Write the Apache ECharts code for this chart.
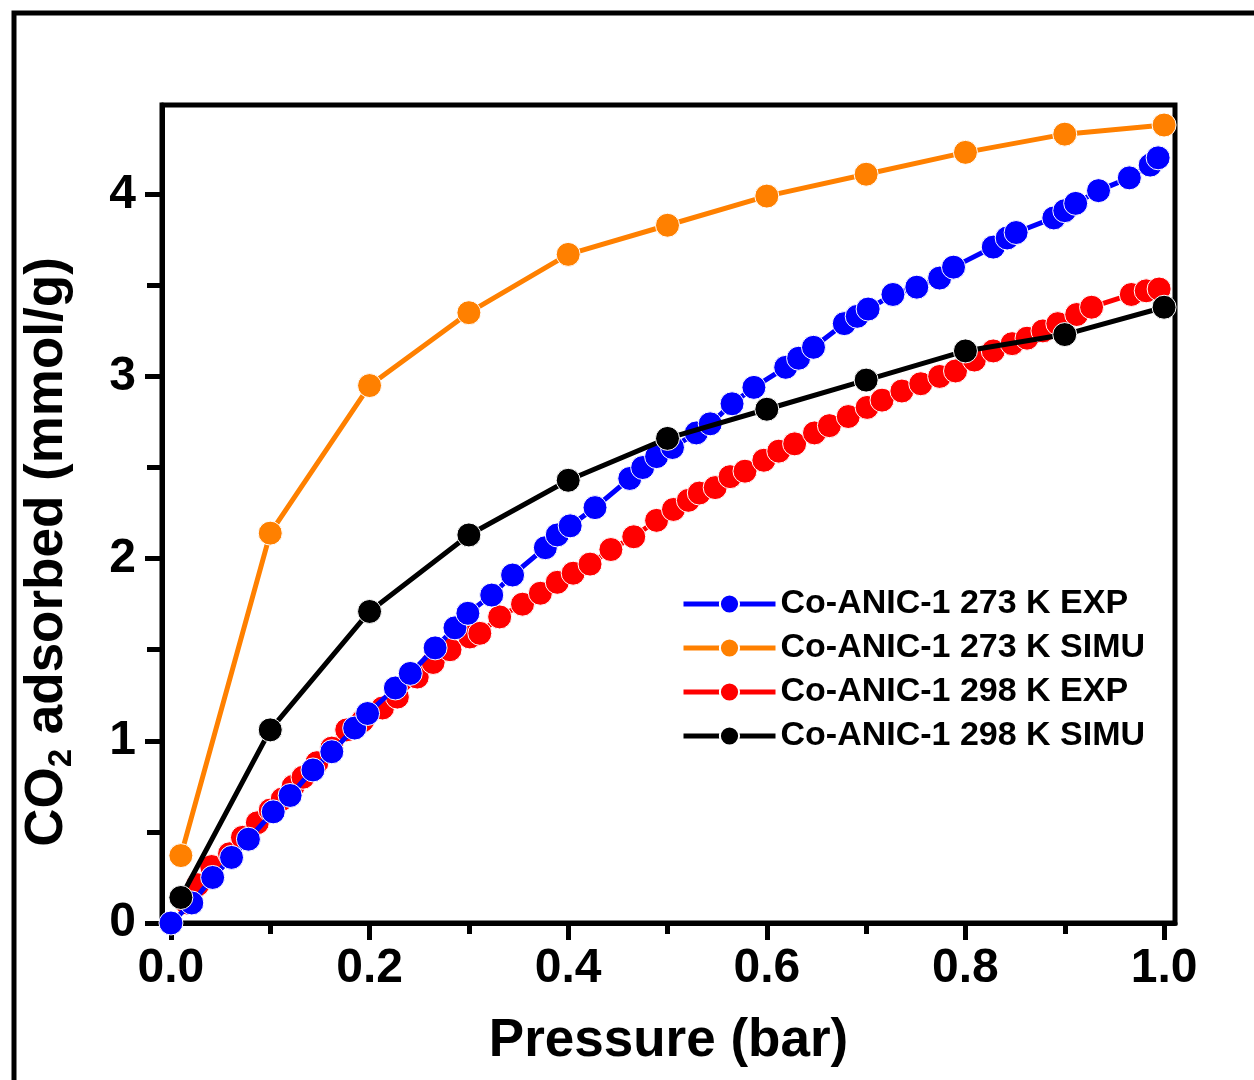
<!DOCTYPE html>
<html>
<head>
<meta charset="utf-8">
<script src="https://cdn.jsdelivr.net/npm/echarts@6/dist/echarts.min.js"></script>
<style>
html,body{margin:0;padding:0;background:#fff;}
#chart{width:1254px;height:1080px;}
</style>
</head>
<body>
<div id="chart"></div>
<script>
// ---- Data (pressure in bar, uptake in mmol/g) ----
var seriesNames = ['Co-ANIC-1 273 K EXP', 'Co-ANIC-1 273 K SIMU', 'Co-ANIC-1 298 K EXP', 'Co-ANIC-1 298 K SIMU'];

var exp273 = [
  [0.0,0.0],[0.021,0.11],[0.042,0.25],[0.061,0.36],[0.078,0.46],[0.103,0.61],[0.12,0.70],
  [0.143,0.84],[0.162,0.94],[0.185,1.07],[0.198,1.15],[0.226,1.29],[0.241,1.37],[0.266,1.51],
  [0.286,1.62],[0.299,1.70],[0.323,1.80],[0.344,1.91],[0.377,2.06],[0.389,2.13],[0.402,2.18],
  [0.427,2.28],[0.462,2.44],[0.475,2.50],[0.489,2.56],[0.505,2.61],[0.529,2.69],[0.543,2.74],
  [0.565,2.85],[0.587,2.94],[0.619,3.05],[0.632,3.10],[0.647,3.16],[0.678,3.29],[0.691,3.33],
  [0.702,3.37],[0.727,3.45],[0.751,3.49],[0.774,3.54],[0.788,3.60],[0.828,3.71],[0.842,3.76],
  [0.851,3.79],[0.889,3.87],[0.900,3.91],[0.911,3.95],[0.934,4.02],[0.965,4.09],[0.986,4.16],
  [0.994,4.20]
];

var simu273 = [
  [0.01,0.37],[0.1,2.14],[0.2,2.95],[0.3,3.35],[0.4,3.67],[0.5,3.83],
  [0.6,3.99],[0.7,4.11],[0.8,4.23],[0.9,4.33],[1.0,4.38]
];

var exp298 = [
  [0.016,0.11],[0.027,0.21],[0.041,0.31],[0.059,0.38],[0.072,0.47],[0.087,0.55],[0.100,0.62],
  [0.112,0.68],[0.123,0.75],[0.133,0.80],[0.147,0.88],[0.162,0.96],[0.177,1.06],[0.193,1.11],
  [0.213,1.18],[0.228,1.24],[0.248,1.35],[0.264,1.43],[0.281,1.50],[0.301,1.57],[0.311,1.59],
  [0.331,1.68],[0.354,1.75],[0.372,1.81],[0.389,1.87],[0.405,1.92],[0.422,1.97],[0.443,2.05],
  [0.466,2.12],[0.489,2.21],[0.506,2.27],[0.521,2.32],[0.532,2.36],[0.548,2.39],[0.563,2.45],
  [0.578,2.48],[0.597,2.54],[0.612,2.59],[0.628,2.63],[0.648,2.69],[0.663,2.73],[0.682,2.78],
  [0.701,2.83],[0.716,2.87],[0.736,2.92],[0.755,2.96],[0.774,3.00],[0.790,3.03],[0.809,3.09],
  [0.828,3.14],[0.847,3.18],[0.862,3.21],[0.878,3.25],[0.893,3.29],[0.912,3.34],[0.927,3.38],
  [0.967,3.45],[0.982,3.47],[0.995,3.48]
];

var simu298 = [
  [0.01,0.14],[0.1,1.06],[0.2,1.71],[0.3,2.13],[0.4,2.43],[0.5,2.66],
  [0.6,2.82],[0.7,2.98],[0.8,3.14],[0.9,3.23],[1.0,3.38]
];

var xMajorTicks = [0, 0.2, 0.4, 0.6, 0.8, 1.0];
var xMinorTicks = [0.1, 0.3, 0.5, 0.7, 0.9];
var yMajorTicks = [0, 1, 2, 3, 4];
var yMinorTicks = [0.5, 1.5, 2.5, 3.5];

var xTitle = 'Pressure (bar)';
var yTitleMain = 'CO';
var yTitleSub = '2';
var yTitleRest = ' adsorbed (mmol/g)';

// ---- Chart ----
var FONT = "'Liberation Sans', Arial, sans-serif";
var chart = echarts.init(document.getElementById('chart'), null, {renderer: 'canvas'});

function mkSeries(name, data, color, z) {
  return {
    name: name, type: 'line', data: data, z: z,
    symbol: 'circle', symbolSize: 24,
    lineStyle: {color: color, width: 5},
    itemStyle: {color: color, borderColor: '#ffffff', borderWidth: 1},
    emphasis: {disabled: true},
    animation: false
  };
}

var option = {
  backgroundColor: '#ffffff',
  animation: false,
  grid: {left: 162, top: 105, width: 1013, height: 818, show: true, borderColor: '#000', borderWidth: 5, backgroundColor: 'transparent'},
  xAxis: [
    {
      type: 'value', min: -0.009, max: 1.011, position: 'bottom',
      name: xTitle, nameLocation: 'middle', nameGap: 92,
      nameTextStyle: {fontFamily: FONT, fontWeight: 'bold', fontSize: 53, color: '#000'},
      axisLine: {show: true, onZero: false, lineStyle: {color: '#000', width: 5}},
      axisTick: {show: true, customValues: xMajorTicks, length: 17, lineStyle: {color: '#000', width: 5}},
      axisLabel: {show: true, customValues: xMajorTicks, margin: 22, fontFamily: FONT, fontWeight: 'bold', fontSize: 48, color: '#000',
        formatter: function (v) { return v.toFixed(1); }},
      splitLine: {show: false}
    },
    {
      type: 'value', min: -0.009, max: 1.011, position: 'bottom',
      axisLine: {show: false, onZero: false},
      axisTick: {show: true, customValues: xMinorTicks, length: 11, lineStyle: {color: '#000', width: 5}},
      axisLabel: {show: false},
      splitLine: {show: false}
    }
  ],
  yAxis: [
    {
      type: 'value', min: 0, max: 4.49, position: 'left',
      name: '{m|' + yTitleMain + '}{s|' + yTitleSub + '}{m|' + yTitleRest + '}',
      nameLocation: 'middle', nameGap: 84, nameRotate: 90,
      nameTextStyle: {
        padding: [0, 76, 0, 0],
        rich: {
          m: {fontFamily: FONT, fontWeight: 'bold', fontSize: 53, color: '#000', lineHeight: 62},
          s: {fontFamily: FONT, fontWeight: 'bold', fontSize: 33, color: '#000', lineHeight: 62, verticalAlign: 'bottom', padding: [22, 0, 0, 0]}
        }
      },
      axisLine: {show: true, onZero: false, lineStyle: {color: '#000', width: 5}},
      axisTick: {show: true, customValues: yMajorTicks, length: 17, lineStyle: {color: '#000', width: 5}},
      axisLabel: {show: true, customValues: yMajorTicks, margin: 26, fontFamily: FONT, fontWeight: 'bold', fontSize: 48, color: '#000'},
      splitLine: {show: false}
    },
    {
      type: 'value', min: 0, max: 4.49, position: 'left',
      axisLine: {show: false, onZero: false},
      axisTick: {show: true, customValues: yMinorTicks, length: 15, lineStyle: {color: '#000', width: 5}},
      axisLabel: {show: false},
      splitLine: {show: false}
    }
  ],
  legend: {
    orient: 'vertical', left: 676, top: 579,
    data: seriesNames,
    itemWidth: 92, itemHeight: 24, itemGap: 4,
    lineStyle: {width: 5},
    textStyle: {fontFamily: FONT, fontWeight: 'bold', fontSize: 34, color: '#000', lineHeight: 40},
    selectedMode: false
  },
  graphic: [
    {type: 'polyline', shape: {points: [[14, 1100], [14, 13], [1270, 13]]}, style: {stroke: '#000', lineWidth: 5, fill: null}, silent: true}
  ],
  series: [
    mkSeries(seriesNames[2], exp298, '#ff0000', 2),
    mkSeries(seriesNames[0], exp273, '#0000ff', 3),
    mkSeries(seriesNames[1], simu273, '#ff8000', 3),
    mkSeries(seriesNames[3], simu298, '#000000', 4)
  ]
};
chart.setOption(option);
</script>
</body>
</html>
